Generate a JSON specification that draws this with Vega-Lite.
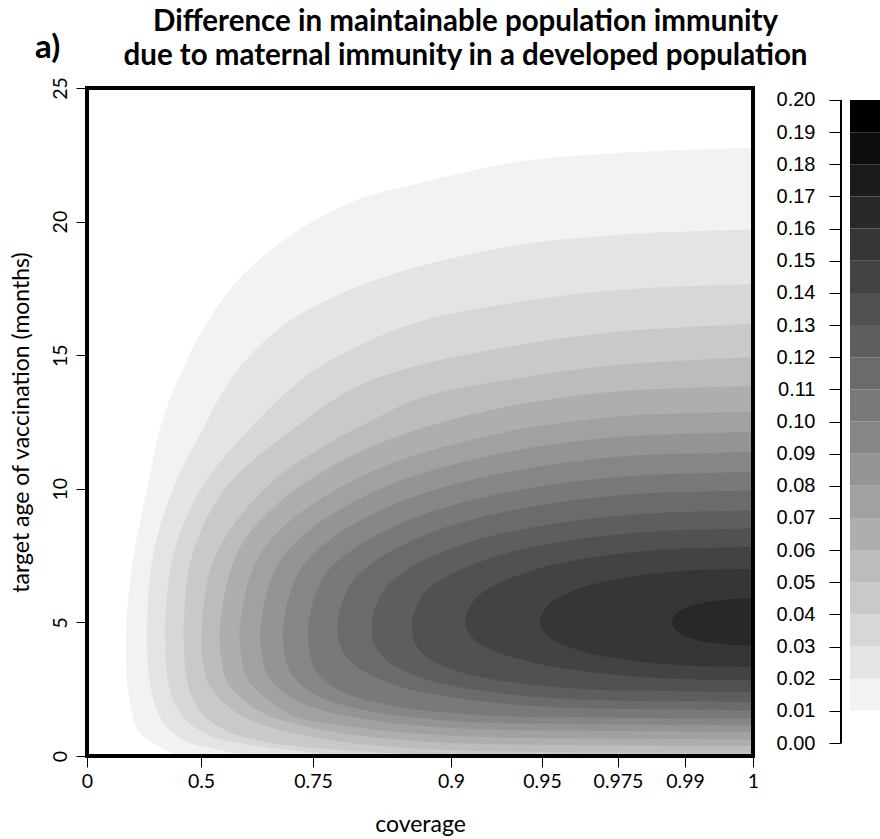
{
  "$schema": "https://vega.github.io/schema/vega-lite/v6.json",
  "padding": {"left": 10, "top": 7, "right": 0, "bottom": 0},
  "title": {
    "text": ["Difference in maintainable population immunity", "due to maternal immunity in a developed population"],
    "font": "Lato", "fontSize": 29.5, "fontWeight": "bold", "lineHeight": 34, "color": "black",
    "anchor": "middle", "dx": 20, "offset": -40
  },
  "config": {"view": {"stroke": null}, "font": "Lato", "concat": {"spacing": 17}},
  "hconcat": [
    {
      "width": 666,
      "height": 668,
      "title": {"text": "a)", "anchor": "start", "dx": 25, "offset": 12, "font": "Lato", "fontSize": 33, "fontWeight": "bold", "color": "black"},
      "data": {"values": [
        {"level":0.01,"age":0,"cov":0.4123},{"level":0.01,"age":0.12,"cov":0.3684},{"level":0.01,"age":0.34,"cov":0.3215},{"level":0.01,"age":0.9,"cov":0.2268},{"level":0.01,"age":1.9,"cov":0.1899},{"level":0.01,"age":3.14,"cov":0.1724},{"level":0.01,"age":4.2,"cov":0.1711},{"level":0.01,"age":5.0,"cov":0.1724},{"level":0.01,"age":6.2,"cov":0.1842},{"level":0.01,"age":7.51,"cov":0.2048},{"level":0.01,"age":10.0,"cov":0.2632},{"level":0.01,"age":12.5,"cov":0.3289},{"level":0.01,"age":14.27,"cov":0.4092},{"level":0.01,"age":16.02,"cov":0.5060},{"level":0.01,"age":17.77,"cov":0.5804},{"level":0.01,"age":19.39,"cov":0.6920},{"level":0.01,"age":20.76,"cov":0.7942},{"level":0.01,"age":21.44,"cov":0.8666},{"level":0.01,"age":22.25,"cov":0.9379},{"level":0.01,"age":22.57,"cov":0.97545},{"level":0.01,"age":22.75,"cov":1},
        {"level":0.02,"age":0,"cov":0.6116},{"level":0.02,"age":0.25,"cov":0.5335},{"level":0.02,"age":0.55,"cov":0.4342},{"level":0.02,"age":1.1,"cov":0.3465},{"level":0.02,"age":2.0,"cov":0.2939},{"level":0.02,"age":3.0,"cov":0.2719},{"level":0.02,"age":4.0,"cov":0.2632},{"level":0.02,"age":5.0,"cov":0.2632},{"level":0.02,"age":7.5,"cov":0.2895},{"level":0.02,"age":10.0,"cov":0.3772},{"level":0.02,"age":12.53,"cov":0.5134},{"level":0.02,"age":13.89,"cov":0.5580},{"level":0.02,"age":15.14,"cov":0.6176},{"level":0.02,"age":16.39,"cov":0.7069},{"level":0.02,"age":17.51,"cov":0.7942},{"level":0.02,"age":18.33,"cov":0.8663},{"level":0.02,"age":19.13,"cov":0.9379},{"level":0.02,"age":19.51,"cov":0.97545},{"level":0.02,"age":19.70,"cov":1},
        {"level":0.03,"age":0,"cov":0.7804},{"level":0.03,"age":0.18,"cov":0.7232},{"level":0.03,"age":0.4,"cov":0.6116},{"level":0.03,"age":0.75,"cov":0.5223},{"level":0.03,"age":1.35,"cov":0.4342},{"level":0.03,"age":2.1,"cov":0.3772},{"level":0.03,"age":3.0,"cov":0.3509},{"level":0.03,"age":4.0,"cov":0.3434},{"level":0.03,"age":5.0,"cov":0.3434},{"level":0.03,"age":7.5,"cov":0.3772},{"level":0.03,"age":10.0,"cov":0.5},{"level":0.03,"age":12.53,"cov":0.6250},{"level":0.03,"age":14.15,"cov":0.7292},{"level":0.03,"age":15.27,"cov":0.7942},{"level":0.03,"age":16.26,"cov":0.8666},{"level":0.03,"age":17.0,"cov":0.9379},{"level":0.03,"age":17.45,"cov":0.97545},{"level":0.03,"age":17.66,"cov":1},
        {"level":0.04,"age":0,"cov":0.8891},{"level":0.04,"age":0.08,"cov":0.8457},{"level":0.04,"age":0.25,"cov":0.7696},{"level":0.04,"age":0.5,"cov":0.6562},{"level":0.04,"age":0.9,"cov":0.5625},{"level":0.04,"age":1.5,"cov":0.5067},{"level":0.04,"age":2.2,"cov":0.4605},{"level":0.04,"age":3.0,"cov":0.4342},{"level":0.04,"age":4.0,"cov":0.4254},{"level":0.04,"age":5.0,"cov":0.4241},{"level":0.04,"age":7.5,"cov":0.4605},{"level":0.04,"age":10.0,"cov":0.5536},{"level":0.04,"age":12.53,"cov":0.7292},{"level":0.04,"age":13.77,"cov":0.7942},{"level":0.04,"age":14.64,"cov":0.8666},{"level":0.04,"age":15.39,"cov":0.9379},{"level":0.04,"age":15.89,"cov":0.97545},{"level":0.04,"age":16.17,"cov":1},
        {"level":0.05,"age":0.1,"cov":1},{"level":0.05,"age":0.198,"cov":0.9060},{"level":0.05,"age":0.345,"cov":0.8353},{"level":0.05,"age":0.59,"cov":0.7696},{"level":0.05,"age":1.08,"cov":0.6540},{"level":0.05,"age":1.57,"cov":0.5835},{"level":0.05,"age":2.55,"cov":0.5223},{"level":0.05,"age":3.53,"cov":0.5045},{"level":0.05,"age":5.0,"cov":0.5022},{"level":0.05,"age":7.5,"cov":0.5321},{"level":0.05,"age":10.0,"cov":0.6420},{"level":0.05,"age":11.5,"cov":0.7570},{"level":0.05,"age":12.53,"cov":0.8123},{"level":0.05,"age":13.4,"cov":0.8666},{"level":0.05,"age":14.15,"cov":0.9379},{"level":0.05,"age":14.64,"cov":0.97545},{"level":0.05,"age":14.92,"cov":1},
        {"level":0.06,"age":0.37,"cov":1},{"level":0.06,"age":0.4626,"cov":0.9114},{"level":0.06,"age":0.6015,"cov":0.8484},{"level":0.06,"age":0.833,"cov":0.7848},{"level":0.06,"age":1.296,"cov":0.6893},{"level":0.06,"age":1.759,"cov":0.6216},{"level":0.06,"age":2.685,"cov":0.5620},{"level":0.06,"age":3.611,"cov":0.5455},{"level":0.06,"age":5,"cov":0.5431},{"level":0.06,"age":7.655,"cov":0.5824},{"level":0.06,"age":9.425,"cov":0.6692},{"level":0.06,"age":11.195,"cov":0.7894},{"level":0.06,"age":12.08,"cov":0.8519},{"level":0.06,"age":12.965,"cov":0.9228},{"level":0.06,"age":13.408,"cov":0.95599},{"level":0.06,"age":13.673,"cov":0.97648},{"level":0.06,"age":13.85,"cov":1},
        {"level":0.07,"age":0.62,"cov":1},{"level":0.07,"age":0.708,"cov":0.9172},{"level":0.07,"age":0.839,"cov":0.8627},{"level":0.07,"age":1.058,"cov":0.8014},{"level":0.07,"age":1.496,"cov":0.7062},{"level":0.07,"age":1.934,"cov":0.6632},{"level":0.07,"age":2.81,"cov":0.6061},{"level":0.07,"age":3.686,"cov":0.5900},{"level":0.07,"age":5,"cov":0.5877},{"level":0.07,"age":7.367,"cov":0.6254},{"level":0.07,"age":8.945,"cov":0.7089},{"level":0.07,"age":10.523,"cov":0.8059},{"level":0.07,"age":11.312,"cov":0.8660},{"level":0.07,"age":12.101,"cov":0.9282},{"level":0.07,"age":12.496,"cov":0.9584},{"level":0.07,"age":12.732,"cov":0.97755},{"level":0.07,"age":12.89,"cov":1},
        {"level":0.08,"age":0.90,"cov":1},{"level":0.08,"age":0.982,"cov":0.9232},{"level":0.08,"age":1.105,"cov":0.8774},{"level":0.08,"age":1.31,"cov":0.8186},{"level":0.08,"age":1.72,"cov":0.7592},{"level":0.08,"age":2.13,"cov":0.7065},{"level":0.08,"age":2.95,"cov":0.6516},{"level":0.08,"age":3.77,"cov":0.6362},{"level":0.08,"age":5,"cov":0.6339},{"level":0.08,"age":7.139,"cov":0.6701},{"level":0.08,"age":8.565,"cov":0.7502},{"level":0.08,"age":9.991,"cov":0.8229},{"level":0.08,"age":10.704,"cov":0.8807},{"level":0.08,"age":11.417,"cov":0.9337},{"level":0.08,"age":11.774,"cov":0.96082},{"level":0.08,"age":11.987,"cov":0.97867},{"level":0.08,"age":12.13,"cov":1},
        {"level":0.09,"age":1.15,"cov":1},{"level":0.09,"age":1.227,"cov":0.9298},{"level":0.09,"age":1.3425,"cov":0.8936},{"level":0.09,"age":1.535,"cov":0.8375},{"level":0.09,"age":1.92,"cov":0.7809},{"level":0.09,"age":2.305,"cov":0.7518},{"level":0.09,"age":3.075,"cov":0.7013},{"level":0.09,"age":3.845,"cov":0.6866},{"level":0.09,"age":5,"cov":0.6846},{"level":0.09,"age":6.914,"cov":0.7192},{"level":0.09,"age":8.19,"cov":0.7722},{"level":0.09,"age":9.466,"cov":0.8416},{"level":0.09,"age":10.104,"cov":0.8967},{"level":0.09,"age":10.742,"cov":0.9398},{"level":0.09,"age":11.061,"cov":0.96352},{"level":0.09,"age":11.252,"cov":0.97991},{"level":0.09,"age":11.38,"cov":1},
        {"level":0.10,"age":1.40,"cov":1},{"level":0.10,"age":1.472,"cov":0.9370},{"level":0.10,"age":1.58,"cov":0.9058},{"level":0.10,"age":1.76,"cov":0.8584},{"level":0.10,"age":2.12,"cov":0.8047},{"level":0.10,"age":2.48,"cov":0.7772},{"level":0.10,"age":3.2,"cov":0.7530},{"level":0.10,"age":3.92,"cov":0.7424},{"level":0.10,"age":5,"cov":0.7404},{"level":0.10,"age":6.689,"cov":0.7613},{"level":0.10,"age":7.815,"cov":0.7965},{"level":0.10,"age":8.941,"cov":0.8622},{"level":0.10,"age":9.504,"cov":0.9072},{"level":0.10,"age":10.067,"cov":0.9465},{"level":0.10,"age":10.349,"cov":0.96652},{"level":0.10,"age":10.517,"cov":0.98125},{"level":0.10,"age":10.63,"cov":1},
        {"level":0.11,"age":1.71,"cov":1},{"level":0.11,"age":1.776,"cov":0.96625},{"level":0.11,"age":1.8745,"cov":0.9466},{"level":0.11,"age":2.039,"cov":0.9183},{"level":0.11,"age":2.368,"cov":0.8730},{"level":0.11,"age":2.697,"cov":0.8360},{"level":0.11,"age":3.355,"cov":0.7967},{"level":0.11,"age":4.013,"cov":0.7809},{"level":0.11,"age":5,"cov":0.7768},{"level":0.11,"age":6.482,"cov":0.7917},{"level":0.11,"age":7.47,"cov":0.8247},{"level":0.11,"age":8.458,"cov":0.8861},{"level":0.11,"age":8.952,"cov":0.9176},{"level":0.11,"age":9.446,"cov":0.9526},{"level":0.11,"age":9.693,"cov":0.96997},{"level":0.11,"age":9.841,"cov":0.98282},{"level":0.11,"age":9.94,"cov":1},
        {"level":0.12,"age":2.02,"cov":1},{"level":0.12,"age":2.08,"cov":0.97066},{"level":0.12,"age":2.169,"cov":0.95385},{"level":0.12,"age":2.318,"cov":0.9305},{"level":0.12,"age":2.616,"cov":0.9012},{"level":0.12,"age":2.914,"cov":0.8684},{"level":0.12,"age":3.51,"cov":0.8324},{"level":0.12,"age":4.106,"cov":0.8178},{"level":0.12,"age":5,"cov":0.8141},{"level":0.12,"age":6.257,"cov":0.8278},{"level":0.12,"age":7.095,"cov":0.8580},{"level":0.12,"age":7.933,"cov":0.9072},{"level":0.12,"age":8.352,"cov":0.9298},{"level":0.12,"age":8.771,"cov":0.95813},{"level":0.12,"age":8.981,"cov":0.97405},{"level":0.12,"age":9.106,"cov":0.98468},{"level":0.12,"age":9.19,"cov":1},
        {"level":0.13,"age":2.40,"cov":1},{"level":0.13,"age":2.452,"cov":0.97554},{"level":0.13,"age":2.53,"cov":0.96076},{"level":0.13,"age":2.66,"cov":0.9447},{"level":0.13,"age":2.92,"cov":0.9184},{"level":0.13,"age":3.18,"cov":0.9031},{"level":0.13,"age":3.70,"cov":0.8739},{"level":0.13,"age":4.22,"cov":0.8610},{"level":0.13,"age":5,"cov":0.8576},{"level":0.13,"age":6.053,"cov":0.8699},{"level":0.13,"age":6.755,"cov":0.8969},{"level":0.13,"age":7.457,"cov":0.9239},{"level":0.13,"age":7.808,"cov":0.9441},{"level":0.13,"age":8.159,"cov":0.96457},{"level":0.13,"age":8.335,"cov":0.9776},{"level":0.13,"age":8.44,"cov":0.98683},{"level":0.13,"age":8.51,"cov":1},
        {"level":0.14,"age":2.83,"cov":1},{"level":0.14,"age":2.873,"cov":0.98969},{"level":0.14,"age":2.9385,"cov":0.98188},{"level":0.14,"age":3.047,"cov":0.9731},{"level":0.14,"age":3.264,"cov":0.95783},{"level":0.14,"age":3.481,"cov":0.9460},{"level":0.14,"age":3.915,"cov":0.9244},{"level":0.14,"age":4.349,"cov":0.9129},{"level":0.14,"age":5,"cov":0.9077},{"level":0.14,"age":5.846,"cov":0.9129},{"level":0.14,"age":6.41,"cov":0.9244},{"level":0.14,"age":6.974,"cov":0.9460},{"level":0.14,"age":7.256,"cov":0.95783},{"level":0.14,"age":7.538,"cov":0.9731},{"level":0.14,"age":7.679,"cov":0.98188},{"level":0.14,"age":7.764,"cov":0.98969},{"level":0.14,"age":7.82,"cov":1},
        {"level":0.15,"age":3.33,"cov":1},{"level":0.15,"age":3.363,"cov":0.99245},{"level":0.15,"age":3.4135,"cov":0.98797},{"level":0.15,"age":3.497,"cov":0.9819},{"level":0.15,"age":3.664,"cov":0.97385},{"level":0.15,"age":3.831,"cov":0.96629},{"level":0.15,"age":4.165,"cov":0.95678},{"level":0.15,"age":4.499,"cov":0.95165},{"level":0.15,"age":5,"cov":0.9489},{"level":0.15,"age":5.603,"cov":0.95165},{"level":0.15,"age":6.005,"cov":0.95678},{"level":0.15,"age":6.407,"cov":0.96629},{"level":0.15,"age":6.608,"cov":0.97385},{"level":0.15,"age":6.809,"cov":0.9819},{"level":0.15,"age":6.9095,"cov":0.98797},{"level":0.15,"age":6.97,"cov":0.99245},{"level":0.15,"age":7.01,"cov":1},
        {"level":0.16,"age":4.14,"cov":1},{"level":0.16,"age":4.157,"cov":0.99713},{"level":0.16,"age":4.183,"cov":0.99569},{"level":0.16,"age":4.226,"cov":0.99417},{"level":0.16,"age":4.312,"cov":0.99225},{"level":0.16,"age":4.398,"cov":0.99097},{"level":0.16,"age":4.57,"cov":0.98902},{"level":0.16,"age":4.742,"cov":0.9877},{"level":0.16,"age":5,"cov":0.9871},{"level":0.16,"age":5.267,"cov":0.9877},{"level":0.16,"age":5.445,"cov":0.98902},{"level":0.16,"age":5.623,"cov":0.99097},{"level":0.16,"age":5.712,"cov":0.99225},{"level":0.16,"age":5.801,"cov":0.99417},{"level":0.16,"age":5.8455,"cov":0.99569},{"level":0.16,"age":5.872,"cov":0.99713},{"level":0.16,"age":5.89,"cov":1}
      ]},
      "layer": [
        {
          "mark": {"type": "area", "orient": "horizontal", "interpolate": "catmull-rom"},
          "encoding": {
            "y": {"field": "age", "type": "quantitative",
              "scale": {"domain": [0, 25], "nice": false, "zero": false},
              "axis": {"values": [0, 5, 10, 15, 20, 25], "format": "d", "domain": false, "grid": false,
                "tickSize": 11, "tickColor": "black", "labelAngle": -90, "labelAlign": "center", "labelBaseline": "bottom",
                "labelPadding": 6, "labelFont": "Lato", "labelFontSize": 19.5, "labelColor": "black",
                "title": "target age of vaccination (months)", "titleFont": "Lato", "titleFontSize": 23, "titleFontWeight": "normal", "titleColor": "black", "titlePadding": 17}},
            "x": {"field": "cov", "type": "quantitative", "stack": null,
              "scale": {"domain": [0, 0.5, 0.75, 0.9, 0.95, 0.975, 0.99, 1], "range": [0, 114, 226, 364, 455, 531, 598, 666], "nice": false, "zero": false},
              "axis": {"values": [0, 0.5, 0.75, 0.9, 0.95, 0.975, 0.99, 1], "format": ".3~g", "domain": false, "grid": false,
                "tickSize": 11, "tickColor": "black", "labelFlush": false, "labelOverlap": false, "labelPadding": 5,
                "labelFont": "Lato", "labelFontSize": 19.5, "labelColor": "black",
                "title": "coverage", "titleFont": "Lato", "titleFontSize": 23, "titleFontWeight": "normal", "titleColor": "black", "titlePadding": 23}},
            "x2": {"datum": 1},
            "color": {"field": "level", "type": "ordinal", "legend": null,
              "scale": {"domain": [0.01,0.02,0.03,0.04,0.05,0.06,0.07,0.08,0.09,0.10,0.11,0.12,0.13,0.14,0.15,0.16,0.17,0.18,0.19],
                "range": ["#f2f2f2","#e4e4e4","#d7d7d7","#c9c9c9","#bcbcbc","#aeaeae","#a1a1a1","#949494","#868686","#797979","#6b6b6b","#5e5e5e","#515151","#434343","#363636","#282828","#1b1b1b","#0d0d0d","#000000"]}}
          }
        },
        {
          "mark": {"type": "rect", "filled": false, "color": "black", "strokeWidth": 3},
          "encoding": {
            "x": {"datum": 0, "type": "quantitative",
              "axis": {"values": [0, 0.5, 0.75, 0.9, 0.95, 0.975, 0.99, 1], "format": ".3~g", "domain": false, "grid": false,
                "tickSize": 11, "tickColor": "black", "labelFlush": false, "labelOverlap": false, "labelPadding": 5,
                "labelFont": "Lato", "labelFontSize": 19.5, "labelColor": "black",
                "title": "coverage", "titleFont": "Lato", "titleFontSize": 23, "titleFontWeight": "normal", "titleColor": "black", "titlePadding": 23}},
            "x2": {"datum": 1},
            "y": {"datum": 0, "type": "quantitative",
              "axis": {"values": [0, 5, 10, 15, 20, 25], "format": "d", "domain": false, "grid": false,
                "tickSize": 11, "tickColor": "black", "labelAngle": -90, "labelAlign": "center", "labelBaseline": "bottom",
                "labelPadding": 6, "labelFont": "Lato", "labelFontSize": 19.5, "labelColor": "black",
                "title": "target age of vaccination (months)", "titleFont": "Lato", "titleFontSize": 23, "titleFontWeight": "normal", "titleColor": "black", "titlePadding": 17}},
            "y2": {"datum": 25}
          }
        }
      ]
    },
    {
      "width": 40,
      "height": 668,
      "data": {"values": [
        {"level":0.01,"hi":0.02},{"level":0.02,"hi":0.03},{"level":0.03,"hi":0.04},{"level":0.04,"hi":0.05},{"level":0.05,"hi":0.06},
        {"level":0.06,"hi":0.07},{"level":0.07,"hi":0.08},{"level":0.08,"hi":0.09},{"level":0.09,"hi":0.10},{"level":0.10,"hi":0.11},
        {"level":0.11,"hi":0.12},{"level":0.12,"hi":0.13},{"level":0.13,"hi":0.14},{"level":0.14,"hi":0.15},{"level":0.15,"hi":0.16},
        {"level":0.16,"hi":0.17},{"level":0.17,"hi":0.18},{"level":0.18,"hi":0.19},{"level":0.19,"hi":0.20}
      ]},
      "layer": [
        {
          "mark": {"type": "rect"},
          "encoding": {
            "y": {"field": "level", "type": "quantitative",
              "scale": {"domain": [-0.00404, 0.20373], "nice": false, "zero": false},
              "axis": {"values": [0,0.01,0.02,0.03,0.04,0.05,0.06,0.07,0.08,0.09,0.1,0.11,0.12,0.13,0.14,0.15,0.16,0.17,0.18,0.19,0.2],
                "format": ".2f", "domain": false, "grid": false, "tickSize": 12, "tickColor": "black",
                "labelFont": "Liberation Sans", "labelFontSize": 20, "labelColor": "black", "labelPadding": 14,
                "labelOverlap": false, "labelFlush": false, "title": null}},
            "y2": {"field": "hi"},
            "x": {"datum": 0.225, "type": "quantitative", "scale": {"domain": [0, 1], "nice": false, "zero": false}, "axis": null},
            "x2": {"datum": 1},
            "color": {"field": "level", "type": "ordinal", "legend": null,
              "scale": {"domain": [0.01,0.02,0.03,0.04,0.05,0.06,0.07,0.08,0.09,0.10,0.11,0.12,0.13,0.14,0.15,0.16,0.17,0.18,0.19],
                "range": ["#f2f2f2","#e4e4e4","#d7d7d7","#c9c9c9","#bcbcbc","#aeaeae","#a1a1a1","#949494","#868686","#797979","#6b6b6b","#5e5e5e","#515151","#434343","#363636","#282828","#1b1b1b","#0d0d0d","#000000"]}}
          }
        },
        {
          "mark": {"type": "rule", "color": "black", "strokeWidth": 1},
          "encoding": {
            "x": {"datum": 0, "type": "quantitative", "axis": null},
            "y": {"datum": 0, "type": "quantitative",
              "axis": {"values": [0,0.01,0.02,0.03,0.04,0.05,0.06,0.07,0.08,0.09,0.1,0.11,0.12,0.13,0.14,0.15,0.16,0.17,0.18,0.19,0.2],
                "format": ".2f", "domain": false, "grid": false, "tickSize": 12, "tickColor": "black",
                "labelFont": "Liberation Sans", "labelFontSize": 20, "labelColor": "black", "labelPadding": 14,
                "labelOverlap": false, "labelFlush": false, "title": null}},
            "y2": {"datum": 0.2}
          }
        }
      ]
    }
  ]
}
